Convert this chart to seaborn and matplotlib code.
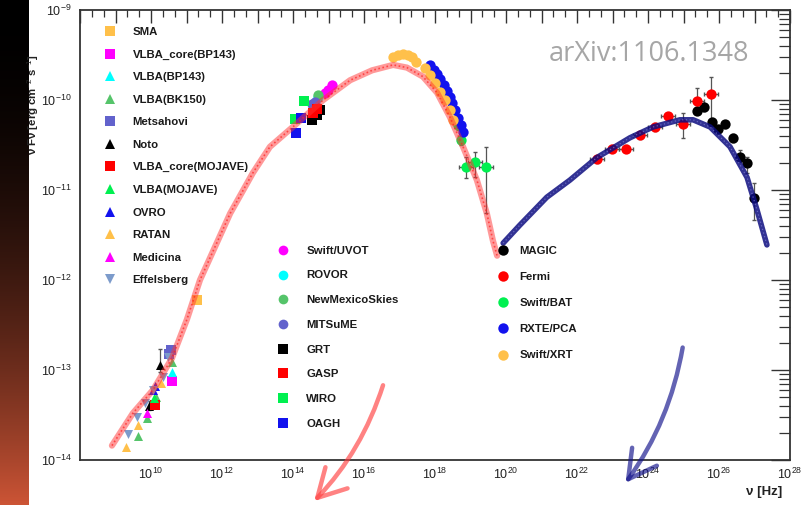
import numpy as np
import seaborn as sns
import matplotlib.pyplot as plt
from matplotlib.lines import Line2D
from matplotlib.ticker import FixedLocator, FuncFormatter, NullFormatter

# --- STYLE ---
sns.set_style("white")
plt.rcParams["font.family"] = ["Liberation Sans", "DejaVu Sans"]
plt.rcParams["mathtext.fontset"] = "custom"
plt.rcParams["mathtext.rm"] = "Liberation Sans"
plt.rcParams["mathtext.bf"] = "Liberation Sans:bold"

# --- DATA (log10 nu [Hz], log10 nuFnu [erg cm-2 s-1]) ---
# radio
sma_lx = [11.30]
sma_ly = [-12.22]
vlba_core_bp_lx = [10.59]
vlba_core_bp_ly = [-13.12]
vlba_bp_lx = [10.59]
vlba_bp_ly = [-13.02]
vlba_bk_lx = [10.59, 10.14, 9.89, 9.63]
vlba_bk_ly = [-12.91, -13.30, -13.53, -13.73]
metsahovi_lx = [10.51, 10.56]
metsahovi_ly = [-12.82, -12.78]
noto_lx = [10.25, 9.94]
noto_ly = [-12.94, -13.40]
noto_lo = [-13.02, -13.45]
noto_hi = [-12.77, -13.35]
vlba_core_moj_lx = [10.11]
vlba_core_moj_ly = [-13.39]
vlba_moj_lx = [10.08]
vlba_moj_ly = [-13.31]
ovro_lx = [10.11, 10.06]
ovro_ly = [-13.18, -13.22]
ratan_lx = [10.28, 9.63, 9.30]
ratan_ly = [-13.14, -13.61, -13.86]
medicina_lx = [9.89]
medicina_ly = [-13.48]
effelsberg_lx = [9.35, 9.61, 9.83, 10.06, 10.34, 10.48]
effelsberg_ly = [-13.71, -13.52, -13.37, -13.22, -13.08, -12.86]

# optical / UV
uvot_lx = [15.10, 14.99, 14.90]
uvot_ly = [-9.83, -9.89, -9.92]
rovor_lx = [14.70]
rovor_ly = [-9.97]
nms_lx = [14.70]
nms_ly = [-9.94]
mitsume_lx = [14.62, 14.54]
mitsume_ly = [-10.02, -10.05]
grt_lx = [14.54, 14.68, 14.76]
grt_ly = [-10.22, -10.17, -10.11]
gasp_lx = [14.56, 14.68]
gasp_ly = [-10.14, -10.10]
wiro_lx = [14.31, 14.06]
wiro_ly = [-10.01, -10.21]
oagh_lx = [14.23, 14.08]
oagh_ly = [-10.20, -10.37]

# X-ray
xrt_lx = [16.82, 16.96, 17.10, 17.24, 17.35, 17.46, 17.72, 17.86, 18.00,
          18.14, 18.28, 18.42, 18.51]
xrt_ly = [-9.52, -9.50, -9.49, -9.50, -9.52, -9.58, -9.64, -9.72, -9.81,
          -9.91, -10.00, -10.11, -10.22]
pca_lx = [17.86, 17.97, 18.06, 18.14, 18.25, 18.34, 18.42, 18.48, 18.56,
          18.65, 18.73, 18.79]
pca_ly = [-9.61, -9.67, -9.71, -9.77, -9.83, -9.90, -9.97, -10.03, -10.11,
          -10.20, -10.28, -10.36]
bat_lx = [18.65, 18.73, 18.87, 19.13, 19.44]
bat_ly = [-10.28, -10.44, -10.74, -10.69, -10.74]
bat_lo = [-10.33, -10.50, -10.87, -10.86, -11.26]
bat_hi = [-10.23, -10.38, -10.63, -10.58, -10.52]
bat_dx = [0.05, 0.05, 0.20, 0.20, 0.20]

# gamma-ray
fermi_lx = [22.56, 22.99, 23.38, 23.77, 24.20, 24.56, 24.99, 25.38, 25.77]
fermi_ly = [-10.66, -10.54, -10.54, -10.39, -10.30, -10.18, -10.27, -10.01, -9.93]
fermi_lo = [-10.70, -10.58, -10.58, -10.43, -10.34, -10.22, -10.42, -10.08, -10.28]
fermi_hi = [-10.62, -10.50, -10.50, -10.35, -10.26, -10.14, -10.14, -9.87, -9.74]
magic_lx = [25.38, 25.58, 25.80, 25.97, 26.17, 26.39, 26.59, 26.79, 26.99]
magic_ly = [-10.12, -10.08, -10.24, -10.32, -10.27, -10.42, -10.63, -10.70, -11.09]
magic_lo = [-10.16, -10.12, -10.28, -10.36, -10.31, -10.47, -10.69, -10.81, -11.33]
magic_hi = [-10.08, -10.04, -10.20, -10.28, -10.23, -10.38, -10.56, -10.63, -10.92]

# hand-drawn model sketches
sync_lx = [8.90, 9.49, 10.06, 10.59, 11.01, 11.38, 12.23, 12.87, 13.35, 14.11,
           14.85, 15.61, 16.23, 16.82, 17.21, 17.66, 18.06, 18.42, 18.79,
           19.18, 19.46, 19.63, 19.75]
sync_ly = [-13.84, -13.48, -13.22, -12.87, -12.44, -12.00, -11.26, -10.81,
           -10.52, -10.26, -10.00, -9.78, -9.67, -9.61, -9.64, -9.74, -9.92,
           -10.19, -10.52, -10.89, -11.26, -11.56, -11.73]
ic_lx = [19.92, 20.39, 21.15, 21.80, 22.56, 23.49, 24.14, 24.90, 25.27, 25.75,
         26.31, 26.79, 27.07, 27.35]
ic_ly = [-11.59, -11.39, -11.08, -10.89, -10.64, -10.42, -10.30, -10.22,
         -10.22, -10.30, -10.52, -10.86, -11.22, -11.61]

# arrows: (start, tip)
red_arrow = [(16.56, -13.14), (14.54, -14.48)]
blue_arrow = [(24.99, -12.72), (23.32, -14.28)]

# --- COLOURS ---
ORANGE = "#FFC04A"
MAGENTA = "#FF00FF"
CYAN = "#00FFFF"
GREEN = "#55C46A"
SLATE = "#6262CC"
RED = "#FF0000"
BGREEN = "#00F050"
BLUE = "#1212EE"
STEEL = "#7C9BCB"

radio = [
    ("SMA", sma_lx, sma_ly, "s", ORANGE),
    ("VLBA_core(BP143)", vlba_core_bp_lx, vlba_core_bp_ly, "s", MAGENTA),
    ("VLBA(BP143)", vlba_bp_lx, vlba_bp_ly, "^", CYAN),
    ("VLBA(BK150)", vlba_bk_lx, vlba_bk_ly, "^", GREEN),
    ("Metsahovi", metsahovi_lx, metsahovi_ly, "s", SLATE),
    ("Noto", noto_lx, noto_ly, "^", "black"),
    ("VLBA_core(MOJAVE)", vlba_core_moj_lx, vlba_core_moj_ly, "s", RED),
    ("VLBA(MOJAVE)", vlba_moj_lx, vlba_moj_ly, "^", BGREEN),
    ("OVRO", ovro_lx, ovro_ly, "^", BLUE),
    ("RATAN", ratan_lx, ratan_ly, "^", ORANGE),
    ("Medicina", medicina_lx, medicina_ly, "^", MAGENTA),
    ("Effelsberg", effelsberg_lx, effelsberg_ly, "v", STEEL),
]
optical = [
    ("Swift/UVOT", uvot_lx, uvot_ly, "o", MAGENTA),
    ("ROVOR", rovor_lx, rovor_ly, "o", CYAN),
    ("NewMexicoSkies", nms_lx, nms_ly, "o", GREEN),
    ("MITSuME", mitsume_lx, mitsume_ly, "o", SLATE),
    ("GRT", grt_lx, grt_ly, "s", "black"),
    ("GASP", gasp_lx, gasp_ly, "s", RED),
    ("WIRO", wiro_lx, wiro_ly, "s", BGREEN),
    ("OAGH", oagh_lx, oagh_ly, "s", BLUE),
]
highe = [
    ("MAGIC", magic_lx, magic_ly, "o", "black"),
    ("Fermi", fermi_lx, fermi_ly, "o", RED),
    ("Swift/BAT", bat_lx, bat_ly, "o", BGREEN),
    ("RXTE/PCA", pca_lx, pca_ly, "o", BLUE),
    ("Swift/XRT", xrt_lx, xrt_ly, "o", ORANGE),
]

def p10(v):
    return np.power(10.0, np.asarray(v, dtype=float))

fig = plt.figure(figsize=(8.05, 5.05), dpi=100)

# left edge of the slide photo (behind everything)
strip = fig.add_axes([0, 0, 28 / 805, 1], zorder=-5)
grad = np.linspace(0, 1, 256) ** 2.0
rgb = np.stack([0.80 * grad, 0.33 * grad, 0.21 * grad], axis=1)[:, None, :]
strip.imshow(rgb, aspect="auto", origin="upper")
strip.axis("off")

ax = fig.add_axes([80 / 805, 1 - 460 / 505, 710 / 805, 450 / 505])
ax.set_xscale("log")
ax.set_yscale("log")
ax.set_xlim(1e8, 1e28)
ax.set_ylim(1e-14, 1e-9)

# error bars
ERR = dict(fmt="none", ecolor="#555555", elinewidth=0.9, capsize=1.2, zorder=2)
ax.errorbar(p10(noto_lx), p10(noto_ly),
            yerr=[p10(noto_ly) - p10(noto_lo), p10(noto_hi) - p10(noto_ly)], **ERR)
ax.errorbar(p10(bat_lx), p10(bat_ly),
            yerr=[p10(bat_ly) - p10(bat_lo), p10(bat_hi) - p10(bat_ly)],
            xerr=[p10(bat_lx) - p10(np.subtract(bat_lx, bat_dx)),
                  p10(np.add(bat_lx, bat_dx)) - p10(bat_lx)], **ERR)
ax.errorbar(p10(fermi_lx), p10(fermi_ly),
            yerr=[p10(fermi_ly) - p10(fermi_lo), p10(fermi_hi) - p10(fermi_ly)],
            xerr=[p10(fermi_lx) - p10(np.subtract(fermi_lx, 0.2)),
                  p10(np.add(fermi_lx, 0.2)) - p10(fermi_lx)], **ERR)
ax.errorbar(p10(magic_lx), p10(magic_ly),
            yerr=[p10(magic_ly) - p10(magic_lo), p10(magic_hi) - p10(magic_ly)], **ERR)

# data points
for group in (radio, optical, highe):
    for label, lx, ly, mk, col in group:
        size = 55 if mk == "o" else 42
        sns.scatterplot(x=p10(lx), y=p10(ly), marker=mk, color=col, s=size,
                        linewidth=0, ax=ax, zorder=3, legend=False)

# sketched model curves
ax.plot(p10(sync_lx), p10(sync_ly), color="#FF3535", lw=4.5, alpha=0.5,
        solid_capstyle="round", zorder=4)
ax.plot(p10(sync_lx), p10(sync_ly), color="#FF2020", lw=1.2, ls=(0, (1, 1.5)),
        alpha=0.7, zorder=4)
ax.plot(p10(ic_lx), p10(ic_ly), color="#0E0E80", lw=4.0, alpha=0.85,
        solid_capstyle="round", zorder=4)
ax.plot(p10(ic_lx), p10(ic_ly), color="#8A8AE0", lw=0.9, ls=(0, (1, 2)),
        alpha=0.6, zorder=4)

for (start, tip), col in ((red_arrow, "#FF4040"), (blue_arrow, "#10108A")):
    ax.annotate("", xy=(10 ** tip[0], 10 ** tip[1]),
                xytext=(10 ** start[0], 10 ** start[1]),
                arrowprops=dict(arrowstyle="->,head_length=1.0,head_width=0.55",
                                color=col, lw=3.2, alpha=0.65, mutation_scale=20,
                                connectionstyle="arc3,rad=-0.12"),
                annotation_clip=False, zorder=4)

# legends
def handles(group, ms):
    return [Line2D([], [], ls="none", marker=mk, color=col, markersize=ms,
                   markeredgewidth=0, label=label)
            for label, lx, ly, mk, col in group]

LEG = dict(frameon=False, loc="upper left", borderpad=0, borderaxespad=0,
           handlelength=1.0, prop=dict(weight="bold", size=8.2))
leg1 = ax.legend(handles=handles(radio, 6.5), bbox_to_anchor=(0.034, 0.962),
                 labelspacing=1.10, handletextpad=1.5, **LEG)
ax.add_artist(leg1)
leg2 = ax.legend(handles=handles(optical, 7), bbox_to_anchor=(0.278, 0.476),
                 labelspacing=1.29, handletextpad=1.55, **LEG)
ax.add_artist(leg2)
ax.legend(handles=handles(highe, 7.5), bbox_to_anchor=(0.588, 0.476),
          labelspacing=1.42, handletextpad=0.9, **LEG)
for lg in ax.get_legend(), leg1, leg2:
    for t in lg.get_texts():
        t.set_color("#1a1a1a")

# axes / ticks (ROOT look)
ax.xaxis.set_major_locator(FixedLocator(p10(np.arange(8, 29))))
ax.xaxis.set_major_formatter(FuncFormatter(
    lambda v, p: r"$10^{%d}$" % round(np.log10(v)) if round(np.log10(v)) % 2 == 0
    and round(np.log10(v)) >= 10 else ""))
minor_x = np.concatenate([np.arange(8, 28) + 1 / 3, np.arange(8, 28) + 2 / 3])
ax.xaxis.set_minor_locator(FixedLocator(p10(minor_x)))
ax.xaxis.set_minor_formatter(NullFormatter())
ax.yaxis.set_major_locator(FixedLocator(p10(np.arange(-14, -8))))
ax.yaxis.set_major_formatter(FuncFormatter(
    lambda v, p: r"$10^{%d}$" % round(np.log10(v))))
minor_y = [d * 10.0 ** e for e in range(-14, -9) for d in range(2, 10)]
ax.yaxis.set_minor_locator(FixedLocator(minor_y))
ax.yaxis.set_minor_formatter(NullFormatter())

ax.tick_params(which="both", direction="in", top=True, right=True,
               colors="#333333", labelcolor="#222222", labelsize=9)
ax.tick_params(axis="x", which="major", length=9, width=1.0, pad=5)
ax.tick_params(axis="x", which="minor", length=5, width=0.9)
ax.tick_params(axis="y", which="major", length=14, width=1.0, pad=6)
ax.tick_params(axis="y", which="minor", length=8, width=0.9)
for sp in ax.spines.values():
    sp.set_color("#333333")
    sp.set_linewidth(1.3)

ax.set_xlabel(r"ν [Hz]", fontweight="bold", fontsize=9.5, color="#222222",
              ha="right", va="center")
ax.xaxis.set_label_coords(0.989, -0.071)
fig.text(33 / 805, 1 - 155 / 505,
         "ν Fν [erg cm$^{-2}$ s$^{-1}$]",
         rotation=90, ha="center", va="bottom", fontweight="bold", fontsize=8.2,
         color="#222222")

fig.text(649 / 805, 1 - 54 / 505, "arXiv:1106.1348", fontsize=19.5,
         family=["Open Sans", "DejaVu Sans"], color="#A6A6A6",
         ha="center", va="center")

fig.savefig("out.png", dpi=100)
